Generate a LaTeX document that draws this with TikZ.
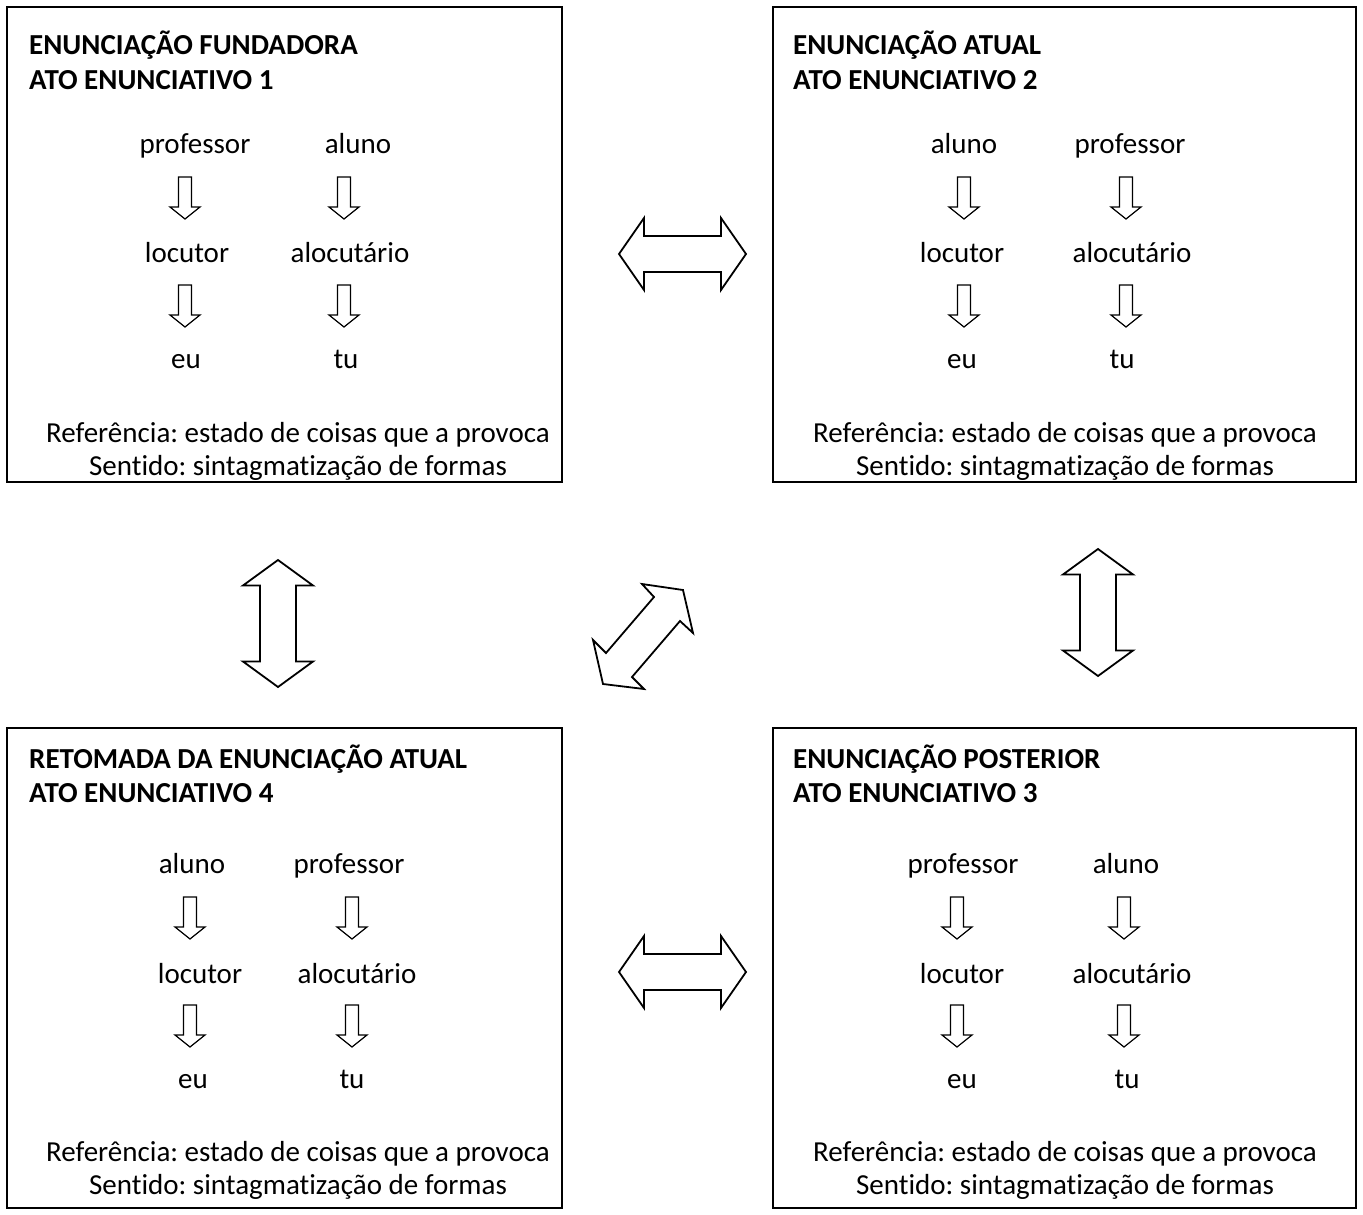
\documentclass[tikz,border=0pt]{standalone}
\usepackage{fontspec}
\setmainfont{Carlito}[Ligatures=NoCommon]
\usepackage{tikz}
\frenchspacing

\tikzset{
  txt/.style={anchor=base,inner sep=0pt,font=\fontsize{29}{33}\selectfont},
  head/.style={anchor=base west,inner sep=0pt,font=\fontsize{29}{33}\selectfont\bfseries},
  frame/.style={line width=1.3pt},
  block/.style={line width=1.8pt,line join=miter},
  downarr/.pic={\draw[line width=1.2pt] (-6.5,0)--(-6.5,30)--(-15,30)--(0,42)--(15,30)--(6.5,30)--(6.5,0)--cycle;},
  harr/.pic={\draw[block] (-63.5,0)--(-38.5,-36)--(-38.5,-18)--(38.5,-18)--(38.5,-36)--(63.5,0)--(38.5,36)--(38.5,18)--(-38.5,18)--(-38.5,36)--cycle;},
  varr/.pic={\draw[block] (0,-63.5)--(35,-38)--(18,-38)--(18,38)--(35,38)--(0,63.5)--(-35,38)--(-18,38)--(-18,-38)--(-35,-38)--cycle;}
}

\begin{document}
\begin{tikzpicture}[x=1pt,y=-1pt]
\useasboundingbox (0,0) rectangle (1363,1215);
% boxes
\draw[frame] (7,7) rectangle (562,482);
\draw[frame] (773,7) rectangle (1356,482);
\draw[frame] (7,728) rectangle (562,1208);
\draw[frame] (773,728) rectangle (1356,1208);

% box 1
\node[head] (tit1a) at (29,55) {ENUNCIAÇÃO FUNDADORA};
\node[head] (tit1b) at (29,89) {ATO ENUNCIATIVO 1};
\node[txt] (prof1) at (195,153) {professor};
\node[txt] (alu1) at (358,153) {aluno};
\pic at (185,177) {downarr};
\pic at (344,177) {downarr};
\node[txt] (loc1) at (187,262) {locutor};
\node[txt] (aloc1) at (350,262) {alocutário};
\pic at (185,285) {downarr};
\pic at (344,285) {downarr};
\node[txt] (eu1) at (186,368) {eu};
\node[txt] (tu1) at (346,368) {tu};
\node[txt] (ref1) at (298,442) {Referência: estado de coisas que a provoca};
\node[txt] (sen1) at (298,475) {Sentido: sintagmatização de formas};

% box 2
\node[head] (tit2a) at (793,55) {ENUNCIAÇÃO ATUAL};
\node[head] (tit2b) at (793,89) {ATO ENUNCIATIVO 2};
\node[txt] (alu2) at (964,153) {aluno};
\node[txt] (prof2) at (1130,153) {professor};
\pic at (964,177) {downarr};
\pic at (1126,177) {downarr};
\node[txt] (loc2) at (962,262) {locutor};
\node[txt] (aloc2) at (1132,262) {alocutário};
\pic at (964,285) {downarr};
\pic at (1126,285) {downarr};
\node[txt] (eu2) at (962,368) {eu};
\node[txt] (tu2) at (1122,368) {tu};
\node[txt] (ref2) at (1065,442) {Referência: estado de coisas que a provoca};
\node[txt] (sen2) at (1065,475) {Sentido: sintagmatização de formas};

% box 4
\node[head] (tit4a) at (29,768) {RETOMADA DA ENUNCIAÇÃO ATUAL};
\node[head] (tit4b) at (29,802) {ATO ENUNCIATIVO 4};
\node[txt] (alu4) at (192,873) {aluno};
\node[txt] (prof4) at (349,873) {professor};
\pic at (190,897) {downarr};
\pic at (352,897) {downarr};
\node[txt] (loc4) at (200,983) {locutor};
\node[txt] (aloc4) at (357,983) {alocutário};
\pic at (190,1005) {downarr};
\pic at (352,1005) {downarr};
\node[txt] (eu4) at (193,1088) {eu};
\node[txt] (tu4) at (352,1088) {tu};
\node[txt] (ref4) at (298,1161) {Referência: estado de coisas que a provoca};
\node[txt] (sen4) at (298,1194) {Sentido: sintagmatização de formas};

% box 3
\node[head] (tit3a) at (793,768) {ENUNCIAÇÃO POSTERIOR};
\node[head] (tit3b) at (793,802) {ATO ENUNCIATIVO 3};
\node[txt] (prof3) at (963,873) {professor};
\node[txt] (alu3) at (1126,873) {aluno};
\pic at (957,897) {downarr};
\pic at (1124,897) {downarr};
\node[txt] (loc3) at (962,983) {locutor};
\node[txt] (aloc3) at (1132,983) {alocutário};
\pic at (957,1005) {downarr};
\pic at (1124,1005) {downarr};
\node[txt] (eu3) at (962,1088) {eu};
\node[txt] (tu3) at (1127,1088) {tu};
\node[txt] (ref3) at (1065,1161) {Referência: estado de coisas que a provoca};
\node[txt] (sen3) at (1065,1194) {Sentido: sintagmatização de formas};

% block arrows between the boxes
\pic at (682.5,254) {harr};
\pic at (682.5,972) {harr};
\pic at (278,623.5) {varr};
\pic at (1098,612.5) {varr};
\draw[block] (642,584)--(683,590)--(693,633)--(680,621)--(632,677)--(644,689)--(603,684)--(593,640)--(606,653)--(654,597)--cycle;
\end{tikzpicture}
\end{document}
